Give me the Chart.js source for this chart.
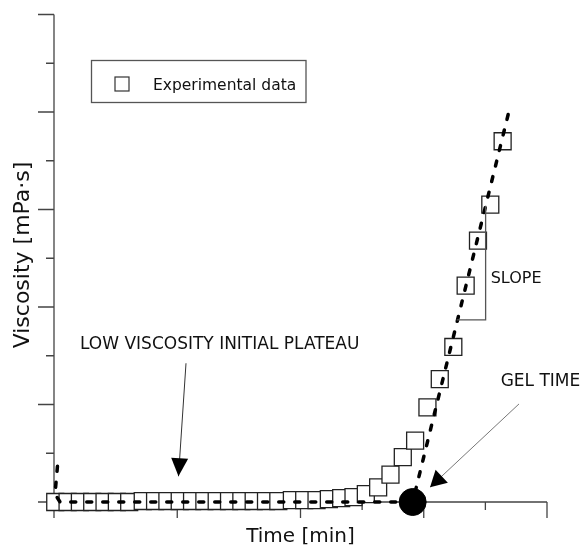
<!DOCTYPE html>
<html>
<head>
<meta charset="utf-8">
<script src="https://cdn.jsdelivr.net/npm/chart.js@4.4.1/dist/chart.umd.min.js"></script>
<style>
  html, body { margin: 0; padding: 0; background: #fff; }
  canvas { display: block; }
</style>
</head>
<body>
<canvas id="chart" width="580" height="547"></canvas>
<script>
// experimental viscosity readings (time in axis units, viscosity in axis units)
const timeData = [0.01, 0.11, 0.21, 0.31, 0.41, 0.51, 0.61, 0.72, 0.82, 0.92,
  1.02, 1.12, 1.22, 1.32, 1.42, 1.52, 1.62, 1.72, 1.82, 1.93,
  2.03, 2.13, 2.23, 2.33, 2.43, 2.53, 2.63, 2.73, 2.83, 2.93,
  3.03, 3.13, 3.24, 3.34, 3.44, 3.54, 3.64];
const viscosityData = [0, 0, 0, 0, 0, 0, 0, 0.01, 0.01, 0.01,
  0.01, 0.01, 0.01, 0.01, 0.01, 0.01, 0.01, 0.01, 0.01, 0.02,
  0.02, 0.02, 0.03, 0.04, 0.05, 0.08, 0.15, 0.28, 0.46, 0.63,
  0.97, 1.26, 1.59, 2.22, 2.68, 3.05, 3.70];

// dashed fit: plateau then straight rise from the gel point
const fitX = [0.028, 0.008, 0.049, 2.91, 3.69];
const fitY = [0.366, 0.08, 0, 0, 4.0];

const gelTime = [2.91];
const gelValue = [0];

const xTicks = [0, 0.5, 1, 1.5, 2, 2.5, 3, 3.5, 4];
const yTicks = [0, 0.5, 1, 1.5, 2, 2.5, 3, 3.5, 4, 4.5, 5];

const axisColor = '#444';
const font = '"DejaVu Sans", Verdana, sans-serif';

function arrow(ctx, x1, y1, x2, y2, len, wid, color) {
    ctx.strokeStyle = color;
    ctx.lineWidth = 1;
    ctx.beginPath();
    ctx.moveTo(x1, y1);
    ctx.lineTo(x2, y2);
    ctx.stroke();
    const a = Math.atan2(y2 - y1, x2 - x1);
    const bx = x2 - len * Math.cos(a), by = y2 - len * Math.sin(a);
    const nx = -Math.sin(a) * wid / 2, ny = Math.cos(a) * wid / 2;
    ctx.fillStyle = '#000';
    ctx.beginPath();
    ctx.moveTo(x2, y2);
    ctx.lineTo(bx + nx, by + ny);
    ctx.lineTo(bx - nx, by - ny);
    ctx.closePath();
    ctx.fill();
}

const decor = {
    id: 'decor',
    beforeDatasetsDraw(chart) {
        const { ctx, scales: { x, y } } = chart;
        const x0 = x.getPixelForValue(0), y0 = y.getPixelForValue(0);
        ctx.save();
        ctx.strokeStyle = axisColor;
        ctx.lineWidth = 1.3;
        ctx.beginPath();
        ctx.moveTo(x0, y.getPixelForValue(5));
        ctx.lineTo(x0, y0);
        ctx.moveTo(x0, y0);
        ctx.lineTo(x.getPixelForValue(4), y0);
        // ticks: long on whole units, short on halves
        xTicks.forEach(v => {
            const px = x.getPixelForValue(v);
            ctx.moveTo(px, y0);
            ctx.lineTo(px, y0 + (v % 1 === 0 ? 16 : 8));
        });
        yTicks.forEach(v => {
            const py = y.getPixelForValue(v);
            ctx.moveTo(x0, py);
            ctx.lineTo(x0 - (v % 1 === 0 ? 16 : 8), py);
        });
        ctx.stroke();

        // axis titles
        ctx.fillStyle = '#111';
        ctx.font = '20px ' + font;
        ctx.textAlign = 'center';
        ctx.textBaseline = 'alphabetic';
        ctx.fillText('Time [min]', (x0 + x.getPixelForValue(4)) / 2, 542);
        ctx.save();
        ctx.translate(28.5, 255);
        ctx.rotate(-Math.PI / 2);
        ctx.font = '22px ' + font;
        ctx.fillText('Viscosity [mPa·s]', 0, 0);
        ctx.restore();
        ctx.restore();
    },
    afterDraw(chart) {
        const { ctx, scales: { x, y } } = chart;
        const X = v => x.getPixelForValue(v), Y = v => y.getPixelForValue(v);
        ctx.save();

        // legend box
        ctx.strokeStyle = '#555';
        ctx.lineWidth = 1.3;
        ctx.strokeRect(91.5, 60.5, 214.5, 42);
        ctx.strokeStyle = '#333';
        ctx.lineWidth = 1.2;
        ctx.fillStyle = '#fff';
        ctx.fillRect(115, 77, 14, 14);
        ctx.strokeRect(115, 77, 14, 14);
        ctx.fillStyle = '#111';
        ctx.font = '15.5px ' + font;
        ctx.textAlign = 'left';
        ctx.textBaseline = 'alphabetic';
        ctx.fillText('Experimental data', 153, 90);

        // labels
        ctx.font = '17px ' + font;
        ctx.fillText('LOW VISCOSITY INITIAL PLATEAU', X(0.211), Y(1.565));
        ctx.fillText('GEL TIME', X(3.624), Y(1.189));
        ctx.font = '16px ' + font;
        ctx.fillText('SLOPE', X(3.543), Y(2.246));

        // slope bracket
        ctx.strokeStyle = '#555';
        ctx.lineWidth = 1.3;
        ctx.beginPath();
        ctx.moveTo(X(3.267), Y(1.867));
        ctx.lineTo(X(3.502), Y(1.867));
        ctx.lineTo(X(3.502), Y(3.039));
        ctx.stroke();

        // arrows
        arrow(ctx, X(1.071), Y(1.423), X(1.010), Y(0.264), 18, 17, '#333');
        arrow(ctx, X(3.773), Y(1.006), X(3.051), Y(0.152), 16, 18, '#777');
        ctx.restore();
    }
};

const points = timeData.map((t, i) => ({ x: t, y: viscosityData[i] }));
const fit = fitX.map((t, i) => ({ x: t, y: fitY[i] }));
const gel = gelTime.map((t, i) => ({ x: t, y: gelValue[i] }));

new Chart(document.getElementById('chart'), {
    type: 'scatter',
    data: {
        datasets: [
            {
                label: 'Gel time',
                data: gel,
                order: 0,
                pointRadius: 13.5,
                pointBackgroundColor: '#000',
                pointBorderColor: '#000',
                clip: false
            },
            {
                label: 'Fit',
                type: 'line',
                data: fit,
                order: 1,
                borderColor: '#000',
                borderWidth: 3.5,
                borderDash: [5, 11],
                borderCapStyle: 'round',
                pointRadius: 0,
                tension: 0,
                fill: false,
                clip: false
            },
            {
                label: 'Experimental data',
                data: points,
                order: 2,
                pointStyle: 'rect',
                pointRadius: 12,
                pointBackgroundColor: '#fff',
                pointBorderColor: '#222',
                pointBorderWidth: 1.3,
                clip: false
            }
        ]
    },
    options: {
        responsive: false,
        animation: false,
        layout: { padding: { left: 54, right: 33, top: 10, bottom: 45 } },
        scales: {
            x: { type: 'linear', min: 0, max: 4, display: false },
            y: { type: 'linear', min: 0, max: 5, display: false }
        },
        plugins: {
            legend: { display: false },
            tooltip: { enabled: false }
        }
    },
    plugins: [decor]
});
</script>
</body>
</html>
